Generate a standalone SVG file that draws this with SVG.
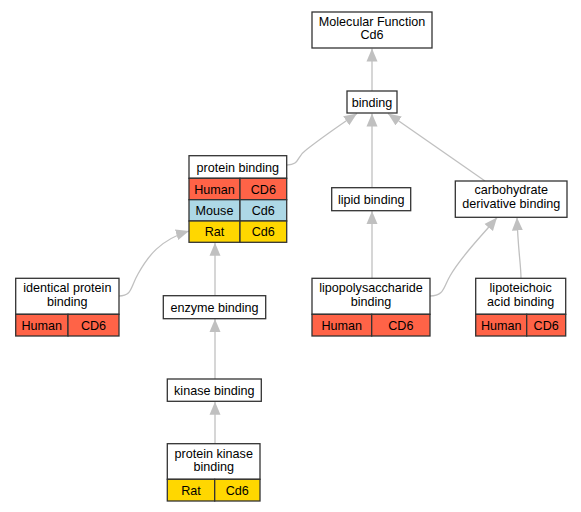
<svg xmlns="http://www.w3.org/2000/svg" width="581" height="512" viewBox="0 0 581 512">
<defs>
<style>
text{font-family:"Liberation Sans",Arial,sans-serif;font-size:12.6px;fill:#000;text-anchor:middle}
.b{fill:#fff;stroke:#333;stroke-width:1.3}
.h{fill:#ff6347;stroke:#333;stroke-width:1.3}
.m{fill:#add8e6;stroke:#333;stroke-width:1.3}
.r{fill:#ffd700;stroke:#333;stroke-width:1.3}
.e{fill:none;stroke:#c0c0c0;stroke-width:1.3}
</style>
<marker id="a" markerUnits="userSpaceOnUse" markerWidth="14" markerHeight="12" viewBox="0 0 14 12" refX="13" refY="6" orient="auto">
<path d="M0,0.5 L13,6 L0,11.5 Z" fill="#c0c0c0"/>
</marker>
</defs>
<rect width="581" height="512" fill="#fff"/>
<g id="edges">
<path class="e" d="M372,91 L372,48.5" marker-end="url(#a)"/>
<path class="e" d="M287,165 C300,165 296,157 306,150 C320,139 340,125 357,113.5" marker-end="url(#a)"/>
<path class="e" d="M372,187.7 L372,113.5" marker-end="url(#a)"/>
<path class="e" d="M485,181 L388,113.5" marker-end="url(#a)"/>
<path class="e" d="M119,296 C132,296 130,288 138,274 C148,256 160,240 189,231" marker-end="url(#a)"/>
<path class="e" d="M215,295.7 L215,242.8" marker-end="url(#a)"/>
<path class="e" d="M215,379 L215,319" marker-end="url(#a)"/>
<path class="e" d="M215,443.7 L215,401.7" marker-end="url(#a)"/>
<path class="e" d="M372,278.3 L372,211" marker-end="url(#a)"/>
<path class="e" d="M430,296 C444,296 443,288 450,276 C462,255 480,238 497,217.5" marker-end="url(#a)"/>
<path class="e" d="M521,278.3 C521,265 518,250 517,217.5" marker-end="url(#a)"/>
</g>
<g id="mf">
<rect class="b" x="312" y="12" width="120" height="36"/>
<text x="372" y="25.8">Molecular Function</text>
<text x="372" y="39.4">Cd6</text>
</g>
<g id="binding">
<rect class="b" x="347" y="91" width="50" height="22"/>
<text x="372" y="106.5">binding</text>
</g>
<g id="protein_binding">
<rect class="b" x="189" y="155.7" width="97.7" height="22.6"/>
<text x="237.8" y="171.5">protein binding</text>
<rect class="h" x="189" y="178.3" width="51" height="21.4"/>
<rect class="h" x="240" y="178.3" width="46.7" height="21.4"/>
<text x="214.5" y="193.5">Human</text>
<text x="263.3" y="193.5">CD6</text>
<rect class="m" x="189" y="199.7" width="51" height="21.3"/>
<rect class="m" x="240" y="199.7" width="46.7" height="21.3"/>
<text x="214.5" y="214.8">Mouse</text>
<text x="263.3" y="214.8">Cd6</text>
<rect class="r" x="189" y="221" width="51" height="21.3"/>
<rect class="r" x="240" y="221" width="46.7" height="21.3"/>
<text x="214.5" y="236">Rat</text>
<text x="263.3" y="236">Cd6</text>
</g>
<g id="lipid_binding">
<rect class="b" x="331.7" y="187.7" width="79" height="23"/>
<text x="371.2" y="203.7">lipid binding</text>
</g>
<g id="carbohydrate">
<rect class="b" x="455.3" y="181" width="111.7" height="36.3"/>
<text x="511.2" y="194.2">carbohydrate</text>
<text x="511.2" y="207.8">derivative binding</text>
</g>
<g id="identical_protein_binding">
<rect class="b" x="15.7" y="278.3" width="103.3" height="36"/>
<text x="67.3" y="292.4">identical protein</text>
<text x="67.3" y="306">binding</text>
<rect class="h" x="15.7" y="314.3" width="52.3" height="21.7"/>
<rect class="h" x="68" y="314.3" width="51" height="21.7"/>
<text x="41.8" y="329.6">Human</text>
<text x="93.5" y="329.6">CD6</text>
</g>
<g id="enzyme_binding">
<rect class="b" x="163.3" y="295.7" width="102.4" height="23"/>
<text x="214.5" y="311.7">enzyme binding</text>
</g>
<g id="kinase_binding">
<rect class="b" x="167.3" y="379" width="94" height="22.3"/>
<text x="214.3" y="394.7">kinase binding</text>
</g>
<g id="protein_kinase_binding">
<rect class="b" x="167.3" y="443.7" width="92.7" height="35.6"/>
<text x="213.7" y="457.6">protein kinase</text>
<text x="213.7" y="471.2">binding</text>
<rect class="r" x="167.3" y="479.3" width="47.4" height="21.7"/>
<rect class="r" x="214.7" y="479.3" width="45.3" height="21.7"/>
<text x="191" y="494.6">Rat</text>
<text x="237.3" y="494.6">Cd6</text>
</g>
<g id="lipopolysaccharide_binding">
<rect class="b" x="312" y="278.3" width="118" height="36"/>
<text x="371" y="292.4">lipopolysaccharide</text>
<text x="371" y="306">binding</text>
<rect class="h" x="312" y="314.3" width="59.7" height="21.7"/>
<rect class="h" x="371.7" y="314.3" width="58.3" height="21.7"/>
<text x="341.8" y="329.6">Human</text>
<text x="400.8" y="329.6">CD6</text>
</g>
<g id="lipoteichoic_acid_binding">
<rect class="b" x="475.7" y="278.3" width="90" height="36"/>
<text x="520.7" y="292.4">lipoteichoic</text>
<text x="520.7" y="306">acid binding</text>
<rect class="h" x="475.7" y="314.3" width="51" height="21.7"/>
<rect class="h" x="526.7" y="314.3" width="39" height="21.7"/>
<text x="501.2" y="329.6">Human</text>
<text x="546.2" y="329.6">CD6</text>
</g>
</svg>
